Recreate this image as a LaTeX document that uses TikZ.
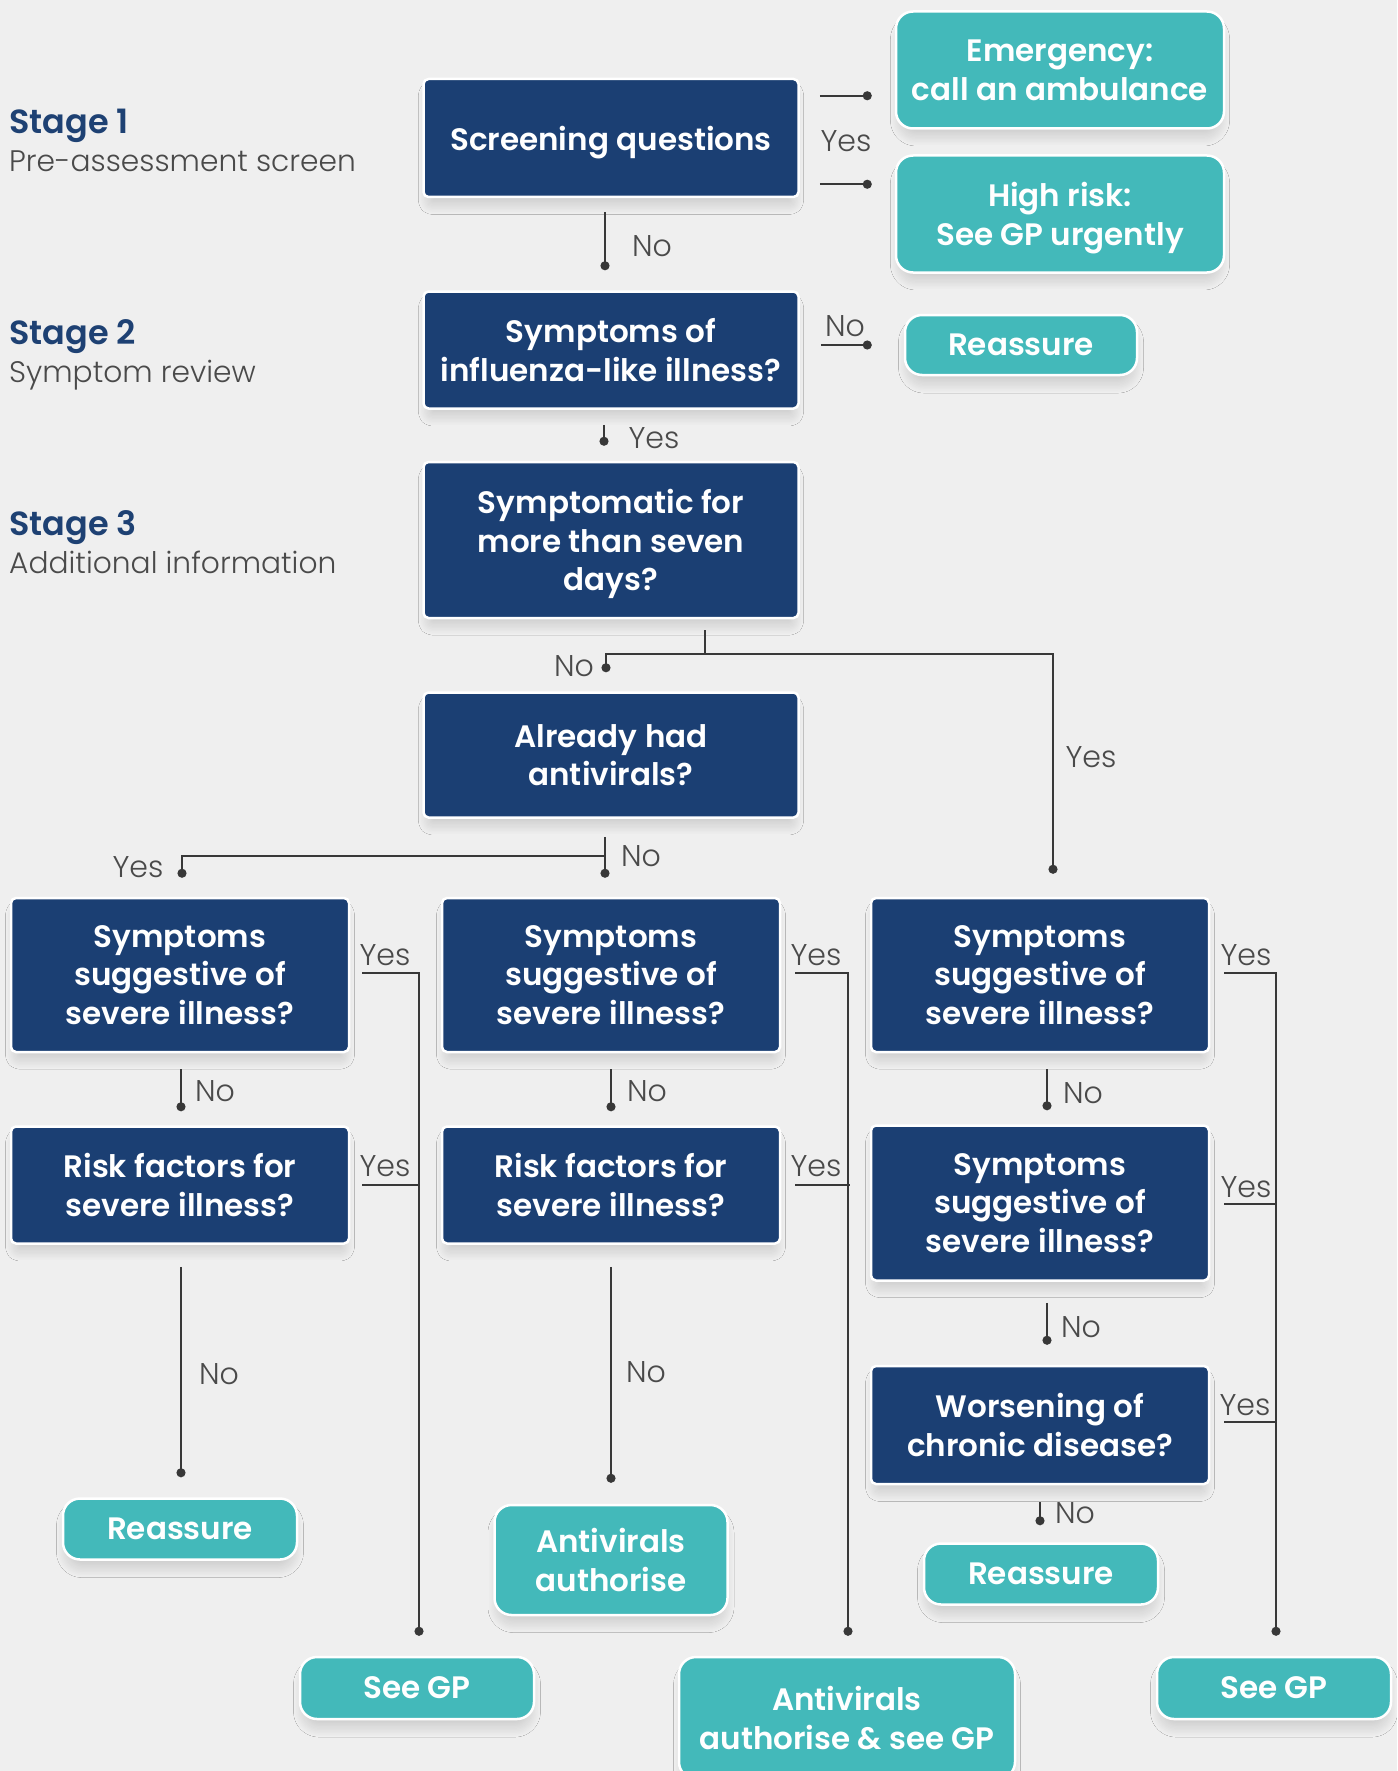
\documentclass[tikz,border=0pt]{standalone}
\usepackage{fontspec}
\setmainfont{Poppins}
\newfontfamily\lightfont{Poppins Light}
\newfontfamily\semifont{Poppins SemiBold}
\usetikzlibrary{arrows.meta,calc,shadows.blur}
\definecolor{bgc}{HTML}{EFEFEF}
\definecolor{navy}{HTML}{1B3F73}
\definecolor{tealbox}{HTML}{43B9BA}
\definecolor{linec}{HTML}{383838}
\definecolor{labc}{HTML}{4A4A4A}
\definecolor{stagec}{HTML}{1E4173}
\tikzset{
  boxbase/.style={draw=white, line width=2.5pt, text=white, align=center, inner sep=0pt,
    font=\semifont\fontsize{31}{38.4}\selectfont, text depth=-3pt,
    blur shadow={shadow xshift=0pt, shadow yshift=-10pt, shadow scale=0.98, shadow blur radius=9pt, shadow blur steps=24, shadow opacity=14}},
  qbox/.style={boxbase, fill=navy, rounded corners=5pt},
  abox/.style={boxbase, fill=tealbox, rounded corners=17pt},
  conn/.style={draw=linec, line width=2.2pt, -{Circle[length=9pt,width=9pt]}},
  plain/.style={draw=linec, line width=2.2pt},
  lab/.style={text=labc, font=\lightfont\fontsize{30}{32}\selectfont, inner sep=0pt, text height=21pt, text depth=0pt},
  stagehead/.style={text=stagec, font=\semifont\fontsize{33.5}{36}\selectfont, anchor=base west, inner sep=0pt},
  stagesub/.style={text=labc, font=\lightfont\fontsize{29.7}{32}\selectfont, anchor=base west, inner sep=0pt},
}
\begin{document}
\begin{tikzpicture}[x=1pt,y=-1pt]
\fill[bgc] (0,0) rectangle (1397,1771);
\useasboundingbox (0,0) rectangle (1397,1771);

% stage labels
\node[stagehead] (st1) at (9,134) {Stage 1};
\node[stagesub] (st1s) at (9,172) {Pre-assessment screen};
\node[stagehead] (st2) at (9,344) {Stage 2};
\node[stagesub] (st2s) at (9,382) {Symptom review};
\node[stagehead] (st3) at (9,535) {Stage 3};
\node[stagesub] (st3s) at (9,573) {Additional information};

% question boxes
\node[qbox, minimum width=375pt, minimum height=118pt] (scr) at (611,138) {Screening questions};
\node[qbox, minimum width=375pt, minimum height=117pt] (ili) at (611,350) {Symptoms of\\influenza-like illness?};
\node[qbox, minimum width=375pt, minimum height=156pt] (sym7) at (611,540) {Symptomatic for\\more than seven\\days?};
\node[qbox, minimum width=375pt, minimum height=125pt] (ahad) at (611,755) {Already had\\antivirals?};
\node[qbox, minimum width=338pt, minimum height=154pt] (c1a) at (180,975) {Symptoms\\suggestive of\\severe illness?};
\node[qbox, minimum width=338pt, minimum height=154pt] (c2a) at (611,975) {Symptoms\\suggestive of\\severe illness?};
\node[qbox, minimum width=338pt, minimum height=154pt] (c3a) at (1040,975) {Symptoms\\suggestive of\\severe illness?};
\node[qbox, minimum width=338pt, minimum height=117pt] (r1) at (180,1185) {Risk factors for\\severe illness?};
\node[qbox, minimum width=338pt, minimum height=117pt] (r2) at (611,1185) {Risk factors for\\severe illness?};
\node[qbox, minimum width=338pt, minimum height=155pt] (c3b) at (1040,1203) {Symptoms\\suggestive of\\severe illness?};
\node[qbox, minimum width=338pt, minimum height=118pt] (wor) at (1040,1425) {Worsening of\\chronic disease?};

% answer boxes
\node[abox, minimum width=328pt, minimum height=117pt] (emg) at (1060,70) {Emergency:\\call an ambulance};
\node[abox, minimum width=328pt, minimum height=117pt] (hr) at (1060,214) {High risk:\\See GP urgently};
\node[abox, minimum width=232pt, minimum height=60pt] (rs1) at (1021,345) {Reassure};
\node[abox, minimum width=234pt, minimum height=61pt] (rs2) at (180,1529) {Reassure};
\node[abox, minimum width=233pt, minimum height=110pt] (av) at (611,1560) {Antivirals\\authorise};
\node[abox, minimum width=234pt, minimum height=61pt] (rs3) at (1041,1574) {Reassure};
\node[abox, minimum width=234pt, minimum height=62pt] (gp1) at (417,1688) {See GP};
\node[abox, minimum width=336pt, minimum height=122pt] (ag) at (847,1718) {Antivirals\\authorise \& see GP};
\node[abox, minimum width=234pt, minimum height=62pt] (gp2) at (1274,1688) {See GP};

% connectors stage 1
\draw[conn] ($(scr.north east)+(20,18)$) -- ($(scr.north east -| emg.west)+(-23,18)$);
\draw[conn] ($(scr.south east)+(20,-14)$) -- ($(scr.south east -| hr.west)+(-23,-14)$);
\draw[conn] ($(scr.south)+(-6,14)$) -- ($(ili.north)+(-6,-20)$);
% stage 2
\draw[conn] ($(ili.east |- rs1.west)+(21,0)$) -- ($(rs1.west)+(-32,0)$);
\draw[conn] ($(ili.south)+(-7,15)$) -- ($(sym7.north)+(-7,-15)$);
% stage 3
\coordinate (j1) at ($(sym7.south)+(94,35)$);
\draw[plain] ($(sym7.south)+(94,11)$) -- (j1);
\draw[conn] (j1) -| ($(ahad.north)+(-5,-19)$);
\draw[conn] (j1) -| ($(c3a.north)+(13,-23)$);
\coordinate (j2) at ($(ahad.south)+(-6,37)$);
\draw[conn] ($(ahad.south)+(-6,18)$) -- ($(c2a.north)+(-6,-19)$);
\draw[conn] (j2) -| ($(c1a.north)+(2,-19)$);

% yes columns
\draw[conn] ($(c1a.east)+(12,-2)$) -| ($(gp1.north)+(2,-20)$);
\draw[plain] ($(r1.east)+(12,0)$) -- ($(r1.east)+(70,0)$);
\draw[conn] ($(c2a.east)+(14,-2)$) -| ($(ag.north)+(1,-20)$);
\draw[plain] ($(r2.east)+(14,0)$) -- ($(r2.east)+(69,0)$);
\draw[conn] ($(c3a.east)+(14,-2)$) -| ($(gp2.north)+(2,-20)$);
\draw[plain] ($(c3b.east)+(14,1)$) -- ($(c3b.east)+(67,1)$);
\draw[plain] ($(wor.east)+(14,-3)$) -- ($(wor.east)+(67,-3)$);

% no columns
\draw[conn] ($(c1a.south)+(1,16)$) -- ($(r1.north)+(1,-14)$);
\draw[conn] ($(r1.south)+(1,22)$) -- ($(rs2.north)+(1,-20)$);
\draw[conn] ($(c2a.south)+(0,16)$) -- ($(r2.north)+(0,-14)$);
\draw[conn] ($(r2.south)+(0,22)$) -- ($(av.north)+(0,-21)$);
\draw[conn] ($(c3a.south)+(7,16)$) -- ($(c3b.north)+(7,-14)$);
\draw[conn] ($(c3b.south)+(7,21)$) -- ($(wor.north)+(7,-20)$);
\draw[conn] ($(wor.south)+(0,17)$) -- ($(rs3.north)+(-1,-17)$);

% labels
\node[lab] (l1) at (846,141) {Yes};
\node[lab] (l2) at (652,246) {No};
\node[lab] (l3) at (845,326) {No};
\node[lab] (l4) at (654,438) {Yes};
\node[lab] (l5) at (574,666) {No};
\node[lab] (l6) at (1091,757) {Yes};
\node[lab] (l7) at (641,856) {No};
\node[lab] (l8) at (138,867) {Yes};
\node[lab] (l9) at (385,955) {Yes};
\node[lab] (l10) at (816,955) {Yes};
\node[lab] (l11) at (1246,955) {Yes};
\node[lab] (l12) at (385,1166) {Yes};
\node[lab] (l13) at (816,1166) {Yes};
\node[lab] (l14) at (1246,1187) {Yes};
\node[lab] (l15) at (1245,1405) {Yes};
\node[lab] (l16) at (215,1091) {No};
\node[lab] (l17) at (647,1091) {No};
\node[lab] (l18) at (1083,1093) {No};
\node[lab] (l19) at (219,1374) {No};
\node[lab] (l20) at (646,1372) {No};
\node[lab] (l21) at (1081,1327) {No};
\node[lab] (l22) at (1075,1513) {No};
\end{tikzpicture}
\end{document}
